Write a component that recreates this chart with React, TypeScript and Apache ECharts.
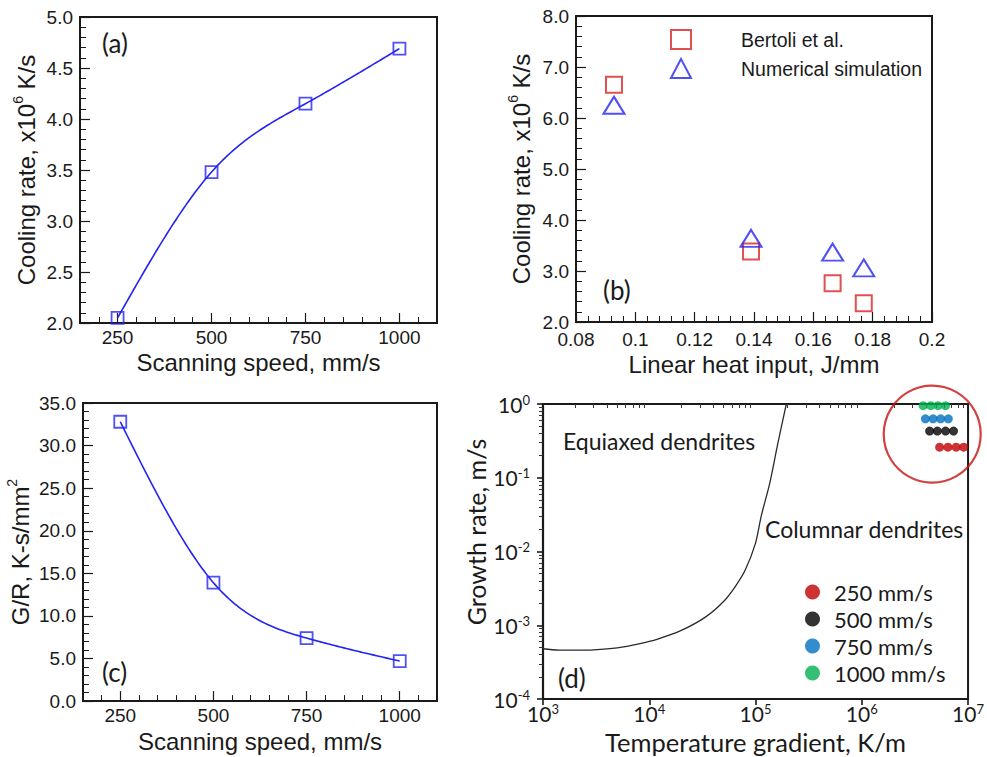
import React, { useEffect, useRef } from 'react';
import * as echarts from 'echarts';

// (a) and (c): melt-pool quantities against scanning speed
const scanSpeed = [250, 500, 750, 1000];
const coolingRate = [2.05, 3.48, 4.15, 4.69]; // x10^6 K/s
const gOverR = [32.8, 13.9, 7.4, 4.7]; // K-s/mm^2
const speedTicks = [250, 500, 750, 1000];

// (b): cooling rate against linear heat input
const heatInput = [0.0928, 0.139, 0.1665, 0.177];
const bertoliRate = [6.65, 3.38, 2.76, 2.37];
const simulatedRate = [6.25, 3.64, 3.37, 3.06];

// (d): columnar-to-equiaxed transition boundary
const cetGradient = [1e3, 1.4e3, 2e3, 3e3, 5e3, 8e3, 1.2e4, 2e4, 3.4e4, 5e4, 6.4e4, 8e4, 1e5, 1.13e5, 1.36e5, 1.62e5, 1.95e5];
const cetGrowth = [4.8e-4, 4.6e-4, 4.6e-4, 4.65e-4, 4.95e-4, 5.6e-4, 6.5e-4, 8.5e-4, 1.3e-3, 2.1e-3, 3.3e-3, 5.6e-3, 1.3e-2, 3.0e-2, 8.4e-2, 0.29, 1.0];

// (d): solidification conditions per scanning speed
const speedNames = ['250 mm/s', '500 mm/s', '750 mm/s', '1000 mm/s'];
const speedColors = ['#c00000', '#000000', '#0070c0', '#00b050'];
const gradient250 = [5.4e6, 6.47e6, 7.73e6, 9.1e6];
const gradient500 = [4.35e6, 5.14e6, 6.14e6, 7.3e6];
const gradient750 = [3.97e6, 4.69e6, 5.52e6, 6.52e6];
const gradient1000 = [3.78e6, 4.46e6, 5.22e6, 6.14e6];
const growthRate = [0.26, 0.43, 0.63, 0.95];
const highlightCenter = [4.6e6, 0.39];

const INK = '#1a1a1a';
const BLUE = '#2424f2';
const RED = '#d82424';
const ARIAL = '"Liberation Sans", Arial, sans-serif';
const SANS = 'Lato, "Noto Sans", sans-serif';

const axisLine = { show: true, onZero: false, lineStyle: { color: INK, width: 2 } };
const tickLabel = { fontSize: 19, fontFamily: ARIAL, color: INK };
const nameStyle = (size: number, family: string) => ({
  fontSize: size,
  fontFamily: family,
  color: INK,
  lineHeight: size + 6,
  rich: {
    sup: { fontSize: Math.round(size * 0.58), fontFamily: family, color: INK, verticalAlign: 'top', lineHeight: 16 },
  },
});

// exponents of 2..9 x 10^e between two decades: positions of the minor ticks on the log axes
const logMinorExponents = (loExp: number, hiExp: number) => {
  const out: number[] = [];
  for (let e = loExp; e < hiExp; e++) for (let m = 2; m <= 9; m++) out.push(e + Math.log10(m));
  return out;
};

// Natural cubic spline through the measured points, used to draw the fitted curve
function naturalSpline(xs: number[], ys: number[]) {
  const n = xs.length - 1;
  const h: number[] = [];
  for (let i = 0; i < n; i++) h[i] = xs[i + 1] - xs[i];
  const alpha: number[] = new Array(n + 1).fill(0);
  for (let i = 1; i < n; i++) {
    alpha[i] = (3 / h[i]) * (ys[i + 1] - ys[i]) - (3 / h[i - 1]) * (ys[i] - ys[i - 1]);
  }
  const l: number[] = new Array(n + 1).fill(1);
  const mu: number[] = new Array(n + 1).fill(0);
  const z: number[] = new Array(n + 1).fill(0);
  for (let i = 1; i < n; i++) {
    l[i] = 2 * (xs[i + 1] - xs[i - 1]) - h[i - 1] * mu[i - 1];
    mu[i] = h[i] / l[i];
    z[i] = (alpha[i] - h[i - 1] * z[i - 1]) / l[i];
  }
  const b: number[] = [];
  const c: number[] = new Array(n + 1).fill(0);
  const d: number[] = [];
  for (let j = n - 1; j >= 0; j--) {
    c[j] = z[j] - mu[j] * c[j + 1];
    b[j] = (ys[j + 1] - ys[j]) / h[j] - (h[j] * (c[j + 1] + 2 * c[j])) / 3;
    d[j] = (c[j + 1] - c[j]) / (3 * h[j]);
  }
  return (x: number) => {
    let j = 0;
    while (j < n - 1 && x > xs[j + 1]) j++;
    const dx = x - xs[j];
    return ys[j] + b[j] * dx + c[j] * dx * dx + d[j] * dx * dx * dx;
  };
}

function splineSeries(xs: number[], ys: number[], xAxisIndex: number, yAxisIndex: number) {
  const f = naturalSpline(xs, ys);
  return {
    type: 'custom', xAxisIndex, yAxisIndex, silent: true, z: 2,
    data: xs.map((x, i) => [x, ys[i]]),
    encode: { x: 0, y: 1 },
    renderItem: (params: any, api: any) => {
      if (params.dataIndex !== 0) return { type: 'group', children: [] };
      const pts: number[][] = [];
      const x0 = xs[0];
      const x1 = xs[xs.length - 1];
      const steps = 120;
      for (let k = 0; k <= steps; k++) {
        const x = x0 + ((x1 - x0) * k) / steps;
        pts.push(api.coord([x, f(x)]));
      }
      return {
        type: 'polyline',
        shape: { points: pts },
        style: { stroke: BLUE, lineWidth: 1.6, fill: 'none' },
      };
    },
  };
}

function speedAxes(gridIndex: number) {
  return [
    {
      type: 'value', gridIndex, min: 150, max: 1100, interval: 50,
      axisLine,
      axisTick: { show: true, inside: true, length: 6, lineStyle: { color: INK, width: 1 } },
      axisLabel: { ...tickLabel, customValues: speedTicks, margin: 5, formatter: (v: number) => String(v) },
      splitLine: { show: false },
      name: 'Scanning speed, mm/s', nameLocation: 'middle', nameGap: 24,
      nameTextStyle: nameStyle(24, ARIAL),
    },
    {
      type: 'value', gridIndex, position: 'bottom', min: 150, max: 1100,
      axisLine: { show: false },
      axisTick: { show: true, inside: true, length: 10, customValues: speedTicks, lineStyle: { color: INK, width: 1.2 } },
      axisLabel: { show: false },
      splitLine: { show: false },
    },
  ];
}

function linYAxis(gridIndex: number, min: number, max: number, interval: number, name: string, gap: number) {
  return {
    type: 'value', gridIndex, min, max, interval,
    axisLine,
    axisTick: { show: true, inside: true, length: 10, lineStyle: { color: INK, width: 1.2 } },
    minorTick: { show: true, splitNumber: 5, length: 6, lineStyle: { color: INK, width: 1 } },
    axisLabel: { ...tickLabel, margin: 7, formatter: (v: number) => v.toFixed(1) },
    splitLine: { show: false },
    minorSplitLine: { show: false },
    name, nameLocation: 'middle', nameGap: gap,
    nameTextStyle: nameStyle(24, ARIAL),
  };
}

const powRich = {
  b: { fontSize: 21, fontFamily: SANS, color: INK, lineHeight: 22 },
  s: { fontSize: 13, fontFamily: SANS, color: INK, verticalAlign: 'top', lineHeight: 11 },
};
const powLabel = (v: number) => `{b|10}{s|${Math.round(Math.log10(v))}}`;

function logAxis(gridIndex: number, min: number, max: number, margin: number, name?: string) {
  return {
    type: 'log', logBase: 10, gridIndex, min, max,
    axisLine: { show: true, onZero: false, lineStyle: { color: INK, width: 2.2 } },
    axisTick: { show: true, inside: false, length: 6, lineStyle: { color: INK, width: 1.6 } },
    axisLabel: { formatter: powLabel, rich: powRich, margin },
    splitLine: { show: false },
    ...(name
      ? {
          name, nameLocation: 'middle', nameGap: 30,
          nameTextStyle: { fontSize: 25.5, fontFamily: SANS, color: INK, lineHeight: 25 },
        }
      : {}),
  };
}

// decoration-only axis laid over a log axis, in decade units, carrying its minor ticks
function logMinorAxis(gridIndex: number, loExp: number, hiExp: number, position: string) {
  return {
    type: 'value', gridIndex, min: loExp, max: hiExp, position,
    axisLine: { show: false },
    axisTick: { show: true, inside: false, length: 4, customValues: logMinorExponents(loExp, hiExp), lineStyle: { color: '#333', width: 1 } },
    axisLabel: { show: false },
    splitLine: { show: false },
  };
}

const gridBox = { show: true, borderColor: INK, borderWidth: 2, backgroundColor: 'rgba(0,0,0,0)' };
const hollow = (color: string) => ({ color: 'rgba(0,0,0,0)', borderColor: color, borderWidth: 1.8 });
const pairs = (xs: number[], ys: number[]) => xs.map((x, i) => [x, ys[i]]);
const row = (xs: number[], y: number) => xs.map((x) => [x, y]);

const panelText = (text: string, x: number, y: number, size: number, rotation = 0, align = 'left') => ({
  type: 'text', x, y, rotation, silent: true,
  style: { text, fontSize: size, fontFamily: SANS, fill: INK, align, verticalAlign: 'middle' },
});

function buildOption() {
  const [ax0, ax1] = speedAxes(0);
  const [cx0, cx1] = speedAxes(2);
  return {
    animation: false,
    backgroundColor: '#ffffff',
    grid: [
      { left: 80, top: 17, width: 357, height: 306, ...gridBox },
      { left: 576, top: 16, width: 356, height: 306, ...gridBox },
      { left: 83, top: 403, width: 354, height: 300, ...gridBox },
      { left: 543, top: 404, width: 429, height: 295, ...gridBox },
    ],
    xAxis: [
      ax0,
      ax1,
      {
        type: 'value', gridIndex: 1, min: 0.08, max: 0.2, interval: 0.02,
        axisLine,
        axisTick: { show: true, inside: true, length: 10, lineStyle: { color: INK, width: 1.2 } },
        minorTick: { show: true, splitNumber: 5, length: 6, lineStyle: { color: INK, width: 1 } },
        axisLabel: { ...tickLabel, margin: 8, formatter: (v: number) => String(+v.toFixed(2)) },
        splitLine: { show: false },
        minorSplitLine: { show: false },
        name: 'Linear heat input, J/mm', nameLocation: 'middle', nameGap: 26,
        nameTextStyle: nameStyle(24, ARIAL),
      },
      cx0,
      cx1,
      logAxis(3, 1e3, 1e7, 3, 'Temperature gradient, K/m'),
      logMinorAxis(3, 3, 7, 'bottom'),
    ],
    yAxis: [
      linYAxis(0, 2, 5, 0.5, 'Cooling rate, x10{sup|6} K/s', 39),
      linYAxis(1, 2, 8, 1, 'Cooling rate, x10{sup|6} K/s', 40),
      linYAxis(2, 0, 35, 5, 'G/R, K-s/mm{sup|2}', 45),
      logAxis(3, 1e-4, 1, 13),
      logMinorAxis(3, -4, 0, 'left'),
    ],
    legend: [
      {
        data: ['Bertoli et al.', 'Numerical simulation'],
        orient: 'vertical', left: 670, top: 29, padding: 0,
        itemWidth: 20, itemHeight: 19, itemGap: 8, selectedMode: false,
        textStyle: { fontSize: 19.5, fontFamily: ARIAL, color: INK, lineHeight: 19, padding: [0, 0, 0, 45] },
      },
      {
        data: speedNames,
        orient: 'vertical', left: 805, top: 581, padding: 0,
        itemWidth: 15, itemHeight: 15, itemGap: 5, selectedMode: false,
        textStyle: { fontSize: 22, fontFamily: SANS, color: INK, lineHeight: 20, padding: [0, 0, 0, 9] },
      },
    ],
    series: [
      splineSeries(scanSpeed, coolingRate, 0, 0),
      {
        type: 'scatter', name: 'Cooling rate', xAxisIndex: 0, yAxisIndex: 0, z: 3,
        data: pairs(scanSpeed, coolingRate), symbol: 'rect', symbolSize: 12, itemStyle: hollow(BLUE),
      },
      {
        type: 'scatter', name: 'Bertoli et al.', xAxisIndex: 2, yAxisIndex: 1,
        data: pairs(heatInput, bertoliRate), symbol: 'rect', symbolSize: 16,
        itemStyle: { ...hollow(RED), borderWidth: 2 },
      },
      {
        type: 'scatter', name: 'Numerical simulation', xAxisIndex: 2, yAxisIndex: 1,
        data: pairs(heatInput, simulatedRate), symbol: 'triangle', symbolSize: [21, 17],
        itemStyle: { ...hollow(BLUE), borderWidth: 2 },
      },
      splineSeries(scanSpeed, gOverR, 3, 2),
      {
        type: 'scatter', name: 'G/R', xAxisIndex: 3, yAxisIndex: 2, z: 3,
        data: pairs(scanSpeed, gOverR), symbol: 'rect', symbolSize: 12, itemStyle: hollow(BLUE),
      },
      {
        type: 'line', name: 'CET', xAxisIndex: 5, yAxisIndex: 3,
        data: pairs(cetGradient, cetGrowth), smooth: 0.3, symbol: 'none',
        lineStyle: { color: '#2a2a2a', width: 1.3 },
      },
      {
        type: 'scatter', name: 'highlight', xAxisIndex: 5, yAxisIndex: 3,
        data: [highlightCenter], symbol: 'circle', symbolSize: 97, silent: true, clip: false, z: 1,
        itemStyle: { color: 'rgba(0,0,0,0)', borderColor: '#c81010', borderWidth: 2.2 },
      },
      ...[gradient250, gradient500, gradient750, gradient1000].map((g, i) => ({
        type: 'scatter', name: speedNames[i], xAxisIndex: 5, yAxisIndex: 3,
        data: row(g, growthRate[i]), symbol: 'circle', symbolSize: 9, clip: false, z: 3,
        itemStyle: { color: speedColors[i] },
      })),
    ],
    graphic: [
      panelText('(a)', 102, 43, 26),
      panelText('(b)', 603, 290, 26),
      panelText('(c)', 102, 672, 26),
      panelText('(d)', 558, 678, 26),
      panelText('Equiaxed dendrites', 563, 441, 23),
      panelText('Columnar dendrites', 765, 529, 23),
      panelText('Growth rate, m/s', 476, 532, 25, Math.PI / 2, 'center'),
    ],
  };
}

export default function App() {
  const ref = useRef<HTMLDivElement>(null);
  useEffect(() => {
    if (!ref.current) return;
    const chart = echarts.init(ref.current, undefined, { renderer: 'svg' });
    chart.setOption(buildOption() as any);
    return () => chart.dispose();
  }, []);
  return (
    <div
      ref={ref}
      style={{ position: 'absolute', left: 0, top: 0, width: 987, height: 757, background: '#fff' }}
    />
  );
}
